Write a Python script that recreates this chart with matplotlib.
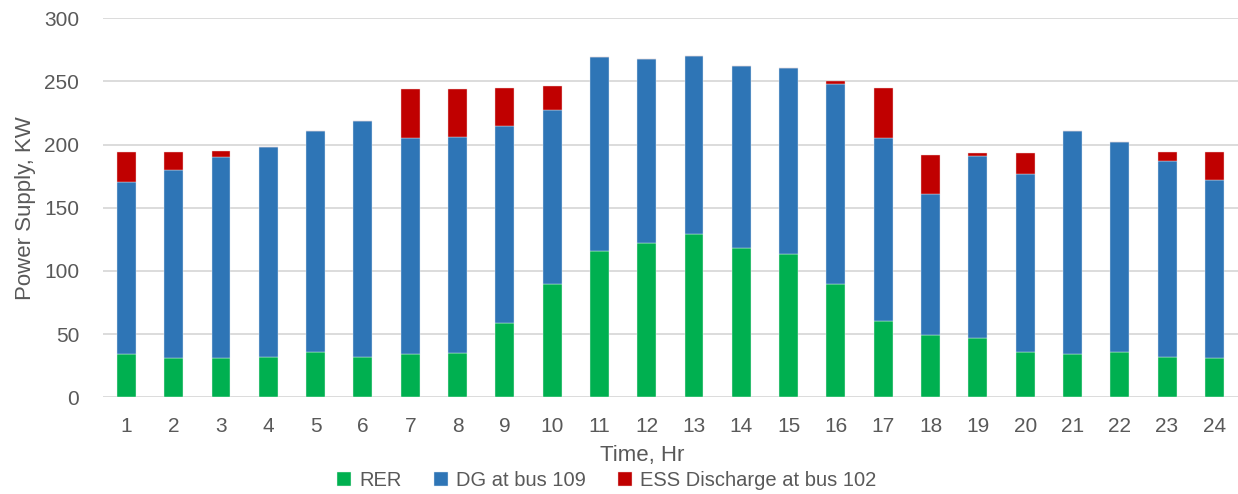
import numpy as np
import matplotlib
matplotlib.use("Agg")
import matplotlib.pyplot as plt

hours = list(range(1, 25))
# stack tops (KW)
rer = [34, 31, 31, 32, 36, 32, 34, 35, 59, 90, 116, 122, 129, 118, 113, 90, 60, 49, 47, 36, 34, 36, 32, 31]
dg_top = [170, 180, 190, 198, 211, 219, 205, 206, 215, 227, 269, 268, 270, 262, 261, 248, 205, 161, 191, 177, 211, 202, 187, 172]
total = [194, 194, 195, 198, 211, 219, 244, 244, 245, 246, 269, 268, 270, 262, 261, 250, 245, 192, 193, 193, 211, 202, 194, 194]

dg = [t - r for t, r in zip(dg_top, rer)]
ess = [t - d for t, d in zip(total, dg_top)]

matplotlib.rcParams.update({'font.family': 'Liberation Sans', 'font.size': 14})
txt = '#595959'

fig = plt.figure(figsize=(12.38, 4.94), dpi=100)
ax = fig.add_axes([0.083, 0.196, 0.917, 0.767])

w = 0.4
ax.bar(hours, rer, w, color='#00b050', edgecolor='#e8f4ec', linewidth=0.3, label='RER', zorder=3)
ax.bar(hours, dg, w, bottom=rer, color='#2e75b6', edgecolor='#dce8f4', linewidth=0.3, label='DG at bus 109', zorder=3)
ax.bar(hours, ess, w, bottom=dg_top, color='#c00000', edgecolor='#f0d0d0', linewidth=0.3, label='ESS Discharge at bus 102', zorder=3)

ax.set_xlim(0.5, 24.5)
ax.set_ylim(0, 300)
ax.set_yticks(range(0, 301, 50))
ax.set_xticks(hours)
ax.grid(axis='y', color='#d9d9d9', linewidth=1.3, zorder=0)
for s in ['top', 'right', 'left', 'bottom']:
    ax.spines[s].set_visible(False)
ax.tick_params(length=0, colors=txt, labelsize=15)
ax.tick_params(axis='x', pad=14)
ax.tick_params(axis='y', pad=17)

ax.set_xlabel('Time, Hr', color=txt, fontsize=16)
ax.xaxis.set_label_coords(0.475, -0.125)
ax.set_ylabel('Power Supply, KW', color=txt, fontsize=16)
ax.yaxis.set_label_coords(-0.059, 0.5)

leg = fig.legend(*ax.get_legend_handles_labels(), loc='center', bbox_to_anchor=(0.49, 0.027),
                 ncol=3, frameon=False, fontsize=14.5, handlelength=0.7, handleheight=0.7,
                 handletextpad=0.4, columnspacing=1.6, borderpad=0)
for t in leg.get_texts():
    t.set_color(txt)

plt.savefig("out.png", dpi=100)
